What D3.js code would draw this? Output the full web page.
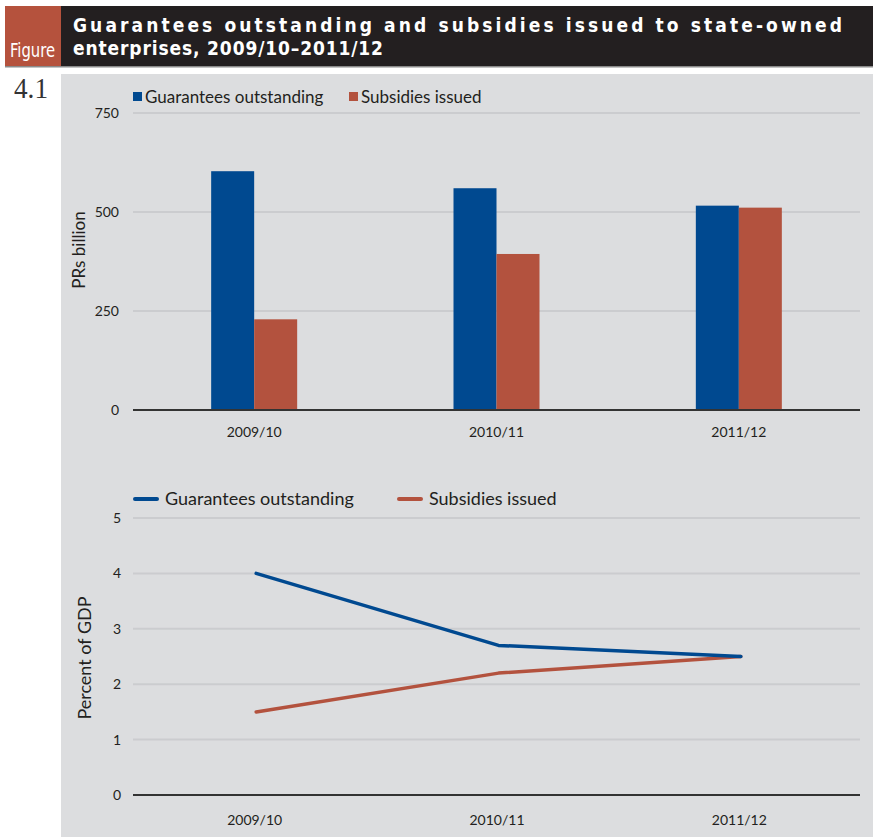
<!DOCTYPE html>
<html>
<head>
<meta charset="utf-8">
<script src="https://cdn.jsdelivr.net/npm/d3@7"></script>
<style>
  html, body { margin: 0; padding: 0; background: #fff; }
  svg { display: block; }
  text { font-family: Lato, "Open Sans", sans-serif; fill: #231f20; }
</style>
</head>
<body>
<svg id="chart" width="873" height="837"></svg>
<script>
// ---- data ----
const years = ["2009/10", "2010/11", "2011/12"];
const seriesNames = ["Guarantees outstanding", "Subsidies issued"];
const guaranteesBillion = [603, 560, 516];
const subsidiesBillion = [229, 394, 511];
const guaranteesPctGDP = [4.0, 2.7, 2.5];
const subsidiesPctGDP = [1.5, 2.2, 2.5];
const billionTicks = [0, 250, 500, 750];
const pctTicks = [0, 1, 2, 3, 4, 5];

const colors = ["#004990", "#b3523e"];

const svg = d3.select("#chart");

// ---- header ----
svg.append("rect").attr("x", 61).attr("y", 6).attr("width", 812).attr("height", 60).attr("fill", "#231f20");
svg.append("rect").attr("x", 5).attr("y", 6).attr("width", 56).attr("height", 60).attr("fill", "#b5523d");
svg.append("rect").attr("x", 5).attr("y", 66).attr("width", 868).attr("height", 1.5).attr("fill", "#8a8a8a");

svg.append("text").attr("x", 10).attr("y", 57)
  .attr("textLength", 45).attr("lengthAdjust", "spacingAndGlyphs")
  .style("font-family", "'Liberation Sans Narrow', 'DejaVu Sans Condensed', sans-serif")
  .style("font-size", "19px").style("fill", "#fff")
  .text("Figure");

const titleLines = ["Guarantees outstanding and subsidies issued to state-owned",
                    "enterprises, 2009/10\u20132011/12"];
const titleFont = "'Liberation Sans Narrow', 'DejaVu Sans Condensed', sans-serif";
svg.append("text").attr("x", 73).attr("y", 32)
  .attr("textLength", 769).attr("lengthAdjust", "spacing")
  .style("font-size", "19px").style("font-weight", "bold").style("fill", "#fff")
  .style("font-family", titleFont)
  .text(titleLines[0]);
svg.append("text").attr("x", 73).attr("y", 55)
  .attr("textLength", 310).attr("lengthAdjust", "spacing")
  .style("font-size", "19px").style("font-weight", "bold").style("fill", "#fff")
  .style("font-family", titleFont)
  .text(titleLines[1]);

svg.append("text").attr("x", 14).attr("y", 98)
  .attr("textLength", 34).attr("lengthAdjust", "spacingAndGlyphs")
  .style("font-family", "'Liberation Serif', 'DejaVu Serif', serif")
  .style("font-size", "29px").style("fill", "#333")
  .text("4.1");

// chart panel
svg.append("rect").attr("x", 61).attr("y", 74).attr("width", 812).attr("height", 763).attr("fill", "#dcdddf");

const left = 133, right = 860;

// ---- bar chart ----
const x0 = d3.scaleBand().domain(years).range([left, right]);
const x1 = d3.scaleBand().domain(seriesNames).range([0, 86]);
const yBar = d3.scaleLinear().domain([0, 750]).range([410, 113]);

const gBar = svg.append("g");
gBar.append("g").selectAll("line").data(billionTicks.filter(d => d > 0)).join("line")
  .attr("x1", left).attr("x2", right)
  .attr("y1", d => yBar(d)).attr("y2", d => yBar(d))
  .attr("stroke", "#cbcccf").attr("stroke-width", 2);

const barSeries = [guaranteesBillion, subsidiesBillion];
years.forEach((yr, i) => {
  seriesNames.forEach((s, j) => {
    gBar.append("rect")
      .attr("x", x0(yr) + x0.bandwidth() / 2 - 43 + x1(s))
      .attr("width", x1.bandwidth())
      .attr("y", yBar(barSeries[j][i]))
      .attr("height", yBar(0) - yBar(barSeries[j][i]))
      .attr("fill", colors[j]);
  });
});

gBar.append("line").attr("x1", left).attr("x2", right)
  .attr("y1", yBar(0)).attr("y2", yBar(0))
  .attr("stroke", "#333").attr("stroke-width", 2);

const yAxisBar = gBar.append("g").attr("transform", `translate(${left},0)`)
  .call(d3.axisLeft(yBar).tickValues(billionTicks).tickSize(0).tickPadding(14));
yAxisBar.select(".domain").remove();
yAxisBar.selectAll("text").style("font-family", "Lato, sans-serif").style("font-size", "14px").attr("fill", "#231f20");

const xAxisBar = gBar.append("g").attr("transform", `translate(0,${yBar(0)})`)
  .call(d3.axisBottom(x0).tickSize(0).tickPadding(17));
xAxisBar.select(".domain").remove();
xAxisBar.selectAll("text").style("font-family", "Lato, sans-serif").style("font-size", "14px").attr("fill", "#231f20");

gBar.append("text").attr("transform", "translate(85,250) rotate(-90)")
  .attr("text-anchor", "middle").style("font-size", "17px").text("PRs billion");

// bar legend
const legBar = [133, 349];
seriesNames.forEach((s, j) => {
  gBar.append("rect").attr("x", legBar[j]).attr("y", 92).attr("width", 9).attr("height", 9).attr("fill", colors[j]);
  gBar.append("text").attr("x", legBar[j] + 12).attr("y", 103).style("font-size", "17px").text(s);
});

// ---- line chart ----
const xPt = d3.scalePoint().domain(years).range([left, right]).padding(0.5);
const yLine = d3.scaleLinear().domain([0, 5]).range([795, 518]);

const gLine = svg.append("g");
gLine.append("g").selectAll("line").data(pctTicks.filter(d => d > 0)).join("line")
  .attr("x1", left).attr("x2", right)
  .attr("y1", d => yLine(d)).attr("y2", d => yLine(d))
  .attr("stroke", "#cbcccf").attr("stroke-width", 2);

gLine.append("line").attr("x1", left).attr("x2", right)
  .attr("y1", yLine(0)).attr("y2", yLine(0))
  .attr("stroke", "#333").attr("stroke-width", 2);

const lineGen = d3.line().x((d, i) => xPt(years[i]) + 2).y(d => yLine(d));
[subsidiesPctGDP, guaranteesPctGDP].forEach((vals, k) => {
  gLine.append("path").datum(vals).attr("d", lineGen)
    .attr("fill", "none").attr("stroke", k === 0 ? colors[1] : colors[0])
    .attr("stroke-width", 3.5).attr("stroke-linecap", "round").attr("stroke-linejoin", "round");
});

const yAxisLine = gLine.append("g").attr("transform", `translate(${left},0)`)
  .call(d3.axisLeft(yLine).tickValues(pctTicks).tickFormat(d3.format("d")).tickSize(0).tickPadding(12));
yAxisLine.select(".domain").remove();
yAxisLine.selectAll("text").style("font-family", "Lato, sans-serif").style("font-size", "14px").attr("fill", "#231f20");

const xAxisLine = gLine.append("g").attr("transform", `translate(0,${yLine(0)})`)
  .call(d3.axisBottom(xPt).tickSize(0).tickPadding(20));
xAxisLine.select(".domain").remove();
xAxisLine.selectAll("text").style("font-family", "Lato, sans-serif").style("font-size", "14px").attr("fill", "#231f20");

gLine.append("text").attr("transform", "translate(91,658) rotate(-90)")
  .attr("text-anchor", "middle").style("font-size", "18px").text("Percent of GDP");

// line legend
const legLine = [133, 397];
seriesNames.forEach((s, j) => {
  gLine.append("line").attr("x1", legLine[j] + 2).attr("x2", legLine[j] + 24)
    .attr("y1", 499).attr("y2", 499)
    .attr("stroke", colors[j]).attr("stroke-width", 4).attr("stroke-linecap", "round");
  gLine.append("text").attr("x", legLine[j] + 32).attr("y", 505).style("font-size", "18px").text(s);
});
</script>
</body>
</html>
